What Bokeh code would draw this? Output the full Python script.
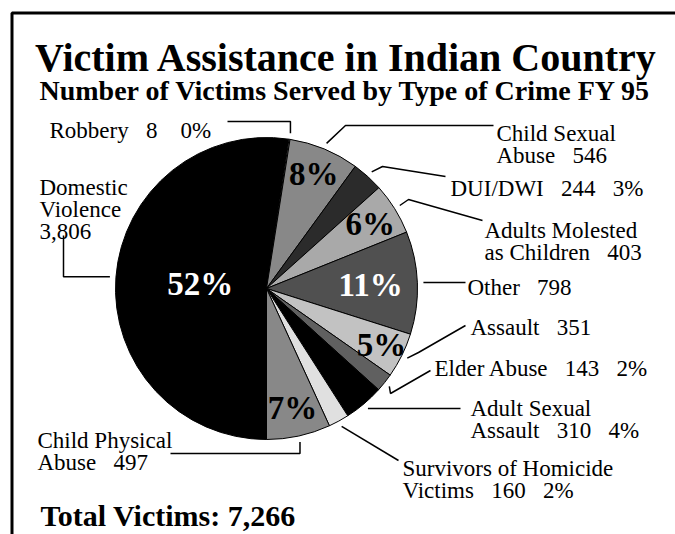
import math
from bokeh.plotting import figure
from bokeh.models import Range1d, ColumnDataSource
from bokeh.core.properties import value
from bokeh.embed import file_html
from bokeh.resources import INLINE

# ---------------- data ----------------
categories = ["Domestic Violence", "Robbery", "Child Sexual Abuse", "DUI/DWI",
              "Adults Molested as Children", "Other", "Assault", "Elder Abuse",
              "Adult Sexual Assault", "Survivors of Homicide Victims",
              "Child Physical Abuse"]
victims = [3806, 8, 546, 244, 403, 798, 351, 143, 310, 160, 497]
title = "Victim Assistance in Indian Country"
subtitle = "Number of Victims Served by Type of Crime FY 95"

# ---------------- styles / layout ----------------
colors = ["#000000", "#ffffff", "#888888", "#2b2b2b", "#a9a9a9", "#505050",
          "#c2c2c2", "#606060", "#000000", "#e0e0e0", "#888888"]
G = "\u00a0\u00a0\u00a0"
label_templates = [
    ["Domestic", "Violence", "{n}"],
    ["Robbery" + G + "{n}" + G + "\u00a0{p}"],
    ["Child Sexual", "Abuse" + G + "{n}"],
    ["DUI/DWI" + G + "{n}" + G + "{p}"],
    ["Adults Molested", "as Children" + G + "{n}"],
    ["Other" + G + "{n}"],
    ["Assault" + G + "{n}"],
    ["Elder Abuse" + G + "{n}" + G + "{p}"],
    ["Adult Sexual", "Assault" + G + "{n}" + G + "{p}"],
    ["Survivors of Homicide", "Victims" + G + "{n}" + G + "{p}"],
    ["Child Physical", "Abuse" + G + "{n}"],
]
# label anchor: left x, first baseline (page px)
label_pos = [(39, 187), (49, 130), (496, 133), (450, 188), (484, 230), (467, 287),
             (470, 327), (434, 368), (470, 408), (402, 468), (37, 440)]
line_pitch = 22
# leader elbows after the computed start point (None = reuse previous coord)
leaders = [
    [(63, None), (63, 235)],
    [(None, 121), (227, 121)],
    [(345, 125), (493, 125)],
    [(382, 166), (445, 176)],
    [(408, 199), (482, 220)],
    [(465, None)],
    [(418, 352), (465, 325)],
    [(390, 393), (430, 370)],
    [(373, 408), (460, 408)],
    [(398, 460)],
    [(None, 453), (170, 453)],
]
inner_r = [0.44, None, 0.82, None, 0.81, 0.69, 0.85, None, None, None, 0.81]
inner_white = [True, False, False, False, False, True, False, False, False, False, False]

W, H = 675, 534
CX, CY, R = 266, 288, 151
FONT = value("Liberation Serif")

total = sum(victims)
pcts = [f"{round(v / total * 100)}%" for v in victims]

# clockwise angles starting from 6 o'clock
cum = [0.0]
for v in victims:
    cum.append(cum[-1] + v / total * 2 * math.pi)
start_angles = [-math.pi / 2 - cum[i + 1] for i in range(len(victims))]
end_angles = [-math.pi / 2 - cum[i] for i in range(len(victims))]
mid_angles = [-math.pi / 2 - (cum[i] + cum[i + 1]) / 2 for i in range(len(victims))]

p = figure(width=W, height=H, x_range=Range1d(0, W), y_range=Range1d(-H, 0),
           output_backend="svg", toolbar_location=None, x_axis_type=None,
           y_axis_type=None, min_border=0, outline_line_color=None,
           background_fill_color="white", border_fill_color="white")
p.grid.visible = False

# frame
p.line([11.5, 11.5, W], [-H, -12.5, -12.5], line_width=3, line_color="black")

# pie
src = ColumnDataSource(dict(cat=categories, v=victims, s=start_angles, e=end_angles, c=colors))
p.wedge(x=CX, y=-CY, radius=R, start_angle="s", end_angle="e", fill_color="c",
        line_color="black", line_width=1, source=src)

# leaders
xs, ys = [], []
for i, pts in enumerate(leaders):
    sx = CX + 1.04 * R * math.cos(mid_angles[i])
    sy = CY - 1.04 * R * math.sin(mid_angles[i])
    lx, ly = [sx], [sy]
    for (px, py) in pts:
        px = lx[-1] if px is None else px
        py = ly[-1] if py is None else py
        lx.append(px)
        ly.append(py)
    xs.append(lx)
    ys.append([-y for y in ly])
p.multi_line(xs, ys, line_color="black", line_width=1.5)

# outside labels
tx, ty, tt = [], [], []
for i, tpl in enumerate(label_templates):
    x0, y0 = label_pos[i]
    for j, line in enumerate(tpl):
        tx.append(x0)
        ty.append(-(y0 + j * line_pitch))
        tt.append(line.format(n=f"{victims[i]:,}", p=pcts[i]))
p.text(tx, ty, text=tt, text_font=FONT, text_font_size="23px",
       text_baseline="alphabetic", text_align="left", text_color="black")

# inner percentage labels
ix, iy, it, ic = [], [], [], []
for i, rf in enumerate(inner_r):
    if rf is None:
        continue
    ix.append(CX + rf * R * math.cos(mid_angles[i]))
    iy.append(-CY + rf * R * math.sin(mid_angles[i]))
    it.append(pcts[i])
    ic.append("white" if inner_white[i] else "black")
p.text(ix, iy, text=it, text_color=ic, text_font=FONT, text_font_size="33px",
       text_font_style="bold", text_align="center", text_baseline="middle")

# titles
p.text([346], [-57], text=[title], text_font=FONT, text_font_size="40px",
       text_font_style="bold", text_align="center", text_baseline="alphabetic")
p.text([345], [-90], text=[subtitle], text_font=FONT, text_font_size="28px",
       text_font_style="bold", text_align="center", text_baseline="alphabetic")
p.text([40], [-515], text=[f"Total Victims: {total:,}"], text_font=FONT,
       text_font_size="30px", text_font_style="bold", text_align="left",
       text_baseline="alphabetic")

open("out.html", "w").write(file_html(p, INLINE))
